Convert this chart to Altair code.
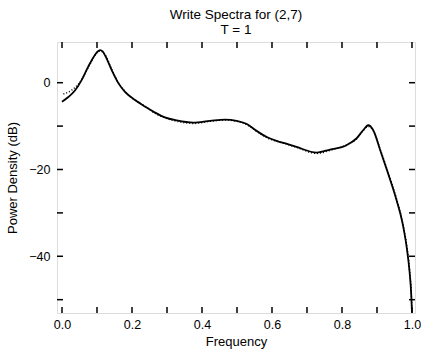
import altair as alt
import pandas as pd

# Solid curve (frequency, power density dB)
freq_solid = [0.0, 0.018, 0.037, 0.056, 0.075, 0.094, 0.102, 0.109, 0.116, 0.123, 0.142, 0.161,
              0.18, 0.209, 0.237, 0.266, 0.294, 0.328, 0.375, 0.423, 0.466, 0.499,
              0.528, 0.556, 0.585, 0.613, 0.647, 0.67, 0.728, 0.766, 0.813, 0.842,
              0.861, 0.875, 0.889, 0.909, 0.93, 0.956, 0.972, 0.985, 0.993, 0.998, 1.0]
db_solid = [-4.4, -3.3, -1.8, 0.6, 3.7, 6.4, 7.2, 7.5, 7.2, 6.3, 2.9, -0.1,
            -2.1, -4.0, -5.5, -6.9, -8.0, -8.7, -9.2, -8.8, -8.5, -8.8,
            -9.5, -11.1, -12.5, -13.4, -14.2, -14.8, -16.1, -15.4, -14.4, -12.8,
            -10.9, -9.8, -10.9, -15.5, -20.5, -27.1, -32.0, -38.0, -43.5, -49.0, -53.0]

# Dotted curve
freq_dot = [0.004, 0.028, 0.05, 0.075, 0.094, 0.102, 0.109, 0.116, 0.123, 0.142, 0.161,
            0.18, 0.209, 0.237, 0.266, 0.294, 0.328, 0.375, 0.423, 0.466, 0.499,
            0.528, 0.556, 0.585, 0.613, 0.647, 0.67, 0.728, 0.766, 0.813, 0.842,
            0.861, 0.875, 0.889, 0.909, 0.93, 0.956, 0.972, 0.985, 0.993, 0.998, 1.0]
db_dot = [-2.6, -1.7, 0.0, 3.5, 6.3, 7.1, 7.3, 7.1, 6.5, 3.1, 0.0,
          -2.0, -4.1, -5.4, -7.1, -8.1, -8.9, -9.4, -8.9, -8.6, -8.9,
          -9.7, -11.2, -12.7, -13.5, -14.3, -14.9, -16.3, -15.6, -14.3, -12.9,
          -11.0, -10.1, -11.0, -15.3, -20.2, -26.8, -31.7, -37.6, -43.1, -48.6, -53.0]

x_ticks = [0.0, 0.1, 0.2, 0.3, 0.4, 0.5, 0.6, 0.7, 0.8, 0.9, 1.0]
x_labels = [0.0, 0.2, 0.4, 0.6, 0.8, 1.0]
y_ticks = [0, -10, -20, -30, -40, -50]
y_labels = [0, -20, -40]

W, H = 358, 271
FONT = "Liberation Sans"

xscale = alt.Scale(domain=[-0.0143, 1.0086], nice=False, zero=False)
yscale = alt.Scale(domain=[-53.07, 9.38], nice=False, zero=False)

solid_df = pd.DataFrame({"f": freq_solid, "db": db_solid})
dot_df = pd.DataFrame({"f": freq_dot, "db": db_dot})
xt_df = pd.DataFrame({"t": x_ticks})
yt_df = pd.DataFrame({"t": y_ticks})

xaxis = alt.Axis(values=x_labels, format=".1f", ticks=False, domain=False, grid=False,
                 labelFontSize=12.5, labelColor="black", labelFont=FONT, labelPadding=5,
                 title="Frequency", titleFontSize=13, titleFont=FONT, titleColor="black",
                 titleFontWeight="normal", titlePadding=5)
yaxis = alt.Axis(values=y_labels, ticks=False, domain=False, grid=False,
                 labelFontSize=12.5, labelColor="black", labelFont=FONT, labelPadding=7,
                 title="Power Density (dB)", titleFontSize=13, titleFont=FONT,
                 titleColor="black", titleFontWeight="normal", titlePadding=9)

solid = alt.Chart(solid_df).mark_line(color="black", strokeWidth=1.8,
                                      interpolate="monotone").encode(
    x=alt.X("f:Q", scale=xscale, axis=xaxis),
    y=alt.Y("db:Q", scale=yscale, axis=yaxis),
)
dotted = alt.Chart(dot_df).mark_line(color="black", strokeWidth=1.4, strokeDash=[1, 2],
                                     interpolate="monotone").encode(
    x=alt.X("f:Q", scale=xscale),
    y=alt.Y("db:Q", scale=yscale),
)

tb = alt.Chart(xt_df).mark_rule(color="black", strokeWidth=1.5).encode(
    x=alt.X("t:Q", scale=xscale), y=alt.value(H), y2=alt.value(H - 6))
tt = alt.Chart(xt_df).mark_rule(color="black", strokeWidth=1.5).encode(
    x=alt.X("t:Q", scale=xscale), y=alt.value(0), y2=alt.value(6))
tl = alt.Chart(yt_df).mark_rule(color="black", strokeWidth=1.5).encode(
    y=alt.Y("t:Q", scale=yscale), x=alt.value(0), x2=alt.value(6))
tr = alt.Chart(yt_df).mark_rule(color="black", strokeWidth=1.5).encode(
    y=alt.Y("t:Q", scale=yscale), x=alt.value(W), x2=alt.value(W - 6))

chart = alt.layer(dotted, solid, tb, tt, tl, tr).properties(
    width=W, height=H,
    title=alt.TitleParams(text="Write Spectra for (2,7)", subtitle="T = 1",
                          font=FONT, fontSize=13.5, fontWeight="normal", color="black",
                          subtitleFont=FONT, subtitleFontSize=13.5, subtitleColor="black",
                          subtitlePadding=1, anchor="middle", offset=5),
    autosize=alt.AutoSizeParams(type="none"),
    padding={"left": 57, "top": 42, "right": 6, "bottom": 36},
).configure_view(stroke="black", strokeWidth=2.2).configure(background="white")

chart.save("out.html", embed_options={"renderer": "svg", "actions": False})
